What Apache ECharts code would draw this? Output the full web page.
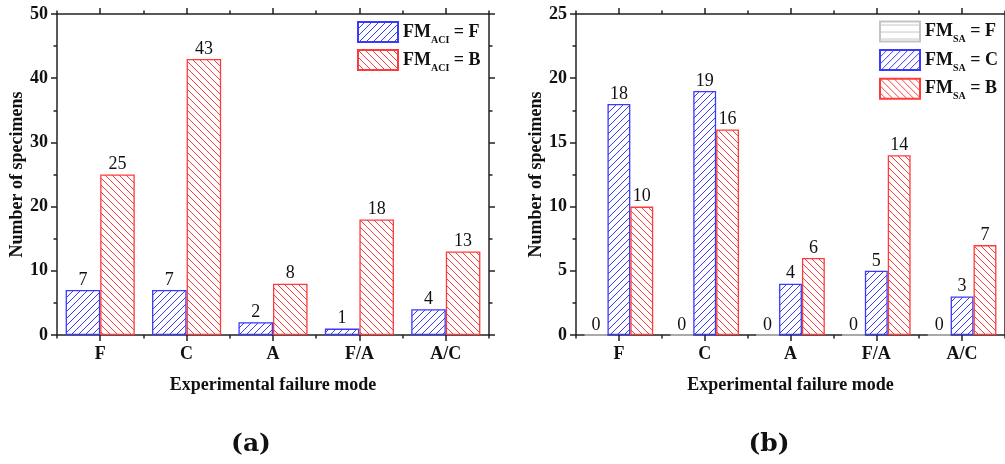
<!DOCTYPE html>
<html>
<head>
<meta charset="utf-8">
<script src="https://cdn.jsdelivr.net/npm/echarts@6/dist/echarts.min.js"></script>
<style>html,body{margin:0;padding:0;background:#fff;}#c{width:1005px;height:464px;}</style>
</head>
<body>
<div id="c"></div>
<script>
// ---- data ----
const categories = ['F', 'C', 'A', 'F/A', 'A/C'];
const aciF = [7, 7, 2, 1, 4];
const aciB = [25, 43, 8, 18, 13];
const saF = [0, 0, 0, 0, 0];
const saC = [18, 19, 4, 5, 3];
const saB = [10, 16, 6, 14, 7];
const seriesNamesA = ['FM_ACI = F', 'FM_ACI = B'];
const seriesNamesB = ['FM_SA = F', 'FM_SA = C', 'FM_SA = B'];
const yMaxA = 50, yStepA = 10;
const yMaxB = 25, yStepB = 5;
const panelTitles = ['(a)', '(b)'];

// ---- patterns ----
function makePattern(color, dir) {
  const s = 7;
  const c = document.createElement('canvas');
  c.width = s; c.height = s;
  const ctx = c.getContext('2d');
  ctx.fillStyle = '#fff';
  ctx.fillRect(0, 0, s, s);
  ctx.strokeStyle = color;
  ctx.lineWidth = 1;
  ctx.beginPath();
  if (dir === '/') {
    ctx.moveTo(0, s); ctx.lineTo(s, 0);
    ctx.moveTo(-1, 1); ctx.lineTo(1, -1);
    ctx.moveTo(s - 1, s + 1); ctx.lineTo(s + 1, s - 1);
  } else if (dir === '\\') {
    ctx.moveTo(0, 0); ctx.lineTo(s, s);
    ctx.moveTo(-1, s - 1); ctx.lineTo(1, s + 1);
    ctx.moveTo(s - 1, -1); ctx.lineTo(s + 1, 1);
  } else {
    ctx.moveTo(0, 3.5); ctx.lineTo(s, 3.5);
  }
  ctx.stroke();
  return { image: c, repeat: 'repeat' };
}
const BLUE = '#3a3aff', RED = '#ff3a3a', GRAY = '#c4c4c4';
const patBlue = makePattern(BLUE, '/');
const patRed = makePattern(RED, '\\');
const patGray = makePattern(GRAY, '-');

const AX = '#222';
const serif = 'Liberation Serif';

function xAxes(gridIndex) {
  const base = { type: 'category', data: categories, gridIndex: gridIndex };
  const line = { show: true, lineStyle: { color: AX, width: 1.5 } };
  return [
    Object.assign({}, base, {
      position: 'bottom', axisLine: line,
      axisTick: { show: true, alignWithLabel: true, length: 6, lineStyle: { color: AX, width: 1.5 } },
      axisLabel: { interval: 0, margin: 10, fontFamily: serif, fontWeight: 'bold', fontSize: 18, color: '#111' },
      name: 'Experimental failure mode', nameLocation: 'middle', nameGap: 41,
      nameTextStyle: { fontFamily: serif, fontWeight: 'bold', fontSize: 18, color: '#111' }
    }),
    Object.assign({}, base, {
      position: 'bottom', axisLine: { show: false },
      axisTick: { show: true, length: 3.5, lineStyle: { color: AX, width: 1.5 } },
      axisLabel: { show: false }
    }),
    Object.assign({}, base, {
      position: 'top', axisLine: line,
      axisTick: { show: true, alignWithLabel: true, length: 6, lineStyle: { color: AX, width: 1.5 } },
      axisLabel: { show: false }
    }),
    Object.assign({}, base, {
      position: 'top', axisLine: { show: false },
      axisTick: { show: true, length: 3.5, lineStyle: { color: AX, width: 1.5 } },
      axisLabel: { show: false }
    })
  ];
}
function yAxes(gridIndex, max, step) {
  const base = {
    type: 'value', gridIndex: gridIndex, min: 0, max: max, interval: step,
    splitLine: { show: false },
    axisLine: { show: true, lineStyle: { color: AX, width: 1.5 } },
    axisTick: { show: true, length: 6, lineStyle: { color: AX, width: 1.5 } },
    minorTick: { show: true, splitNumber: 2, length: 3.5, lineStyle: { color: AX, width: 1.5 } }
  };
  return [
    Object.assign({}, base, {
      position: 'left',
      axisLabel: { margin: 9, fontFamily: serif, fontWeight: 'bold', fontSize: 18, color: '#111' },
      name: 'Number of specimens', nameLocation: 'middle', nameGap: 29,
      nameTextStyle: { fontFamily: serif, fontWeight: 'bold', fontSize: 18, color: '#111' }
    }),
    Object.assign({}, base, { position: 'right', axisLabel: { show: false } })
  ];
}

function barSeries(name, data, pat, border, xi, yi, labelDist) {
  return {
    type: 'bar', name: name, data: data, xAxisIndex: xi, yAxisIndex: yi,
    barGap: '0%', barCategoryGap: '20%',
    itemStyle: { color: pat, borderColor: border, borderWidth: 1.3 },
    label: { show: true, position: 'top', distance: labelDist, fontFamily: serif, fontSize: 18, color: '#111' },
    emphasis: { disabled: true },
    animation: false
  };
}

function legendFormatter(name) {
  const m = name.match(/^FM_(\w+) = (\w)$/);
  return '{a|FM}{b|' + m[1] + '}{a| = ' + m[2] + '}';
}
const legendRich = {
  a: { fontFamily: serif, fontWeight: 'bold', fontSize: 18, color: '#111', lineHeight: 26 },
  b: { fontFamily: serif, fontWeight: 'bold', fontSize: 10, color: '#111', lineHeight: 8, verticalAlign: 'bottom' }
};

const chart = echarts.init(document.getElementById('c'), null, { renderer: 'canvas' });
chart.setOption({
  animation: false,
  backgroundColor: '#fff',
  title: [
    { text: panelTitles[0], left: 246, top: 427, textAlign: 'center',
      textStyle: { fontFamily: 'DejaVu Serif', fontWeight: 'bold', fontSize: 25, color: '#111' } },
    { text: panelTitles[1], left: 764, top: 427, textAlign: 'center',
      textStyle: { fontFamily: 'DejaVu Serif', fontWeight: 'bold', fontSize: 25, color: '#111' } }
  ],
  grid: [
    { left: 57, top: 14, width: 432, height: 321 },
    { left: 576, top: 14, width: 432, height: 321 }
  ],
  legend: [
    { data: seriesNamesA, left: 357, top: 21, padding: 0, orient: 'vertical', itemWidth: 40, itemHeight: 20, itemGap: 4,
      icon: 'rect', selectedMode: false, formatter: legendFormatter, textStyle: { rich: legendRich } },
    { data: seriesNamesB, left: 879, top: 20.5, padding: 0, orient: 'vertical', itemWidth: 40, itemHeight: 20, itemGap: 4.6,
      icon: 'rect', selectedMode: false, formatter: legendFormatter, textStyle: { rich: legendRich } }
  ],
  xAxis: xAxes(0).concat(xAxes(1)),
  yAxis: yAxes(0, yMaxA, yStepA).concat(yAxes(1, yMaxB, yStepB)),
  series: [
    barSeries(seriesNamesA[0], aciF, patBlue, BLUE, 0, 0, 1),
    barSeries(seriesNamesA[1], aciB, patRed, RED, 0, 0, 1),
    barSeries(seriesNamesB[0], saF, patGray, GRAY, 4, 2, 0),
    barSeries(seriesNamesB[1], saC, patBlue, BLUE, 4, 2, 1),
    barSeries(seriesNamesB[2], saB, patRed, RED, 4, 2, 1)
  ]
});
</script>
</body>
</html>
